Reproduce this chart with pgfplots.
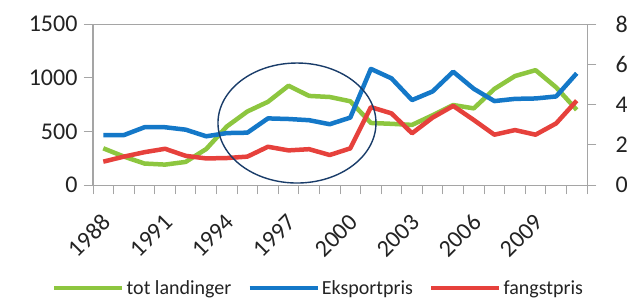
\documentclass[border=0pt]{standalone}
\usepackage{pgfplots}
\usepackage{pgfplotstable}
\pgfplotsset{compat=1.18}
\usepackage{fontspec}
\setmainfont{Carlito}
\definecolor{cgreen}{RGB}{141,198,63}
\definecolor{cblue}{RGB}{20,120,200}
\definecolor{cred}{RGB}{230,65,60}
\definecolor{cnavy}{RGB}{25,60,105}
\definecolor{caxis}{RGB}{165,165,165}
\definecolor{ctext}{RGB}{35,35,35}

\pgfplotstableread{
i year green blue red
0 1988 342 2.48 1.16
1 1989 265 2.48 1.41
2 1990 200 2.87 1.63
3 1991 190 2.87 1.80
4 1992 215 2.75 1.45
5 1993 335 2.42 1.32
6 1994 545 2.58 1.34
7 1995 685 2.60 1.41
8 1996 775 3.31 1.90
9 1997 925 3.28 1.72
10 1998 830 3.22 1.78
11 1999 820 3.02 1.49
12 2000 780 3.35 1.82
13 2001 578 5.77 3.87
14 2002 570 5.30 3.56
15 2003 560 4.22 2.57
16 2004 650 4.65 3.35
17 2005 745 5.63 3.93
18 2006 714 4.78 3.23
19 2007 895 4.17 2.50
20 2008 1015 4.28 2.73
21 2009 1070 4.30 2.50
22 2010 910 4.40 3.06
23 2011 700 5.55 4.19
}\datatab

\pgfplotsset{
  common/.style={
    scale only axis, width=494pt, height=161pt,
    at={(0pt,0pt)}, anchor=south west,
    xmin=-0.5, xmax=23.5,
    /pgf/number format/assume math mode=true,
    /pgf/number format/1000 sep={},
    tick align=outside, major tick length=9pt, minor tick length=9pt,
    tick style={draw=caxis, line width=0.9pt},
    every minor tick/.append style={draw=caxis, line width=0.9pt},
    axis line style={draw=caxis, line width=1pt},
    tick label style={font=\fontsize{24}{26}\selectfont, text=ctext},
    clip=false,
  }
}

\begin{document}
\begin{tikzpicture}
% tick marks only (left y and bottom x)
\begin{axis}[common,
  ymin=0, ymax=1500, ytick={0,750}, xtick={0,12},
  xmajorticks=false, ymajorticks=false,
  xtick pos=bottom, ytick pos=left,
  minor xtick={-0.5,0.5,...,23.5},
  minor ytick={0,500,1000,1500},
]
\end{axis}
% tick marks only (right y)
\begin{axis}[common,
  ymin=0, ymax=8, ytick={1,3}, axis y line*=right, axis x line=none,
  ymajorticks=false,
  minor ytick={0,2,4,6,8},
]
\end{axis}
\begin{axis}[common,
  ymin=0, ymax=1500, ytick={0,500,1000,1500}, ytick pos=left,
  yticklabel style={xshift=-3pt},
  xtick={-0.5,0.5,...,23.5}, xtick pos=bottom,
  xticklabels={,1988,,,1991,,,1994,,,1997,,,2000,,,2003,,,2006,,,2009,,},
  xticklabel style={xshift=-4.5pt, yshift=-22pt, rotate=45, anchor=east},
]
\addplot[cgreen, line width=4.5pt, line join=round] table[x=i, y=green] {\datatab};
\end{axis}
\begin{axis}[common,
  ymin=0, ymax=8, ytick={0,2,4,6,8},
  axis y line*=right, axis x line=none,
  yticklabel style={xshift=16pt},
  legend style={at={(-0.083,-0.64)}, anchor=west, draw=none, fill=none,
    legend columns=3, font=\fontsize{20}{22}\selectfont, text=ctext,
    /tikz/every even column/.append style={column sep=14pt},
    inner sep=0pt, nodes={inner sep=2pt}},
  legend image code/.code={\draw[#1, line width=4.5pt] (0pt,0pt) -- (68pt,0pt);},
]
\addlegendimage{cgreen}
\addlegendentry{tot landinger}
\addplot[cblue, line width=4.5pt, line join=round] table[x=i, y=blue] {\datatab};
\addlegendentry{Eksportpris}
\addplot[cred, line width=4.5pt, line join=round] table[x=i, y=red] {\datatab};
\addlegendentry{fangstpris}
\draw[cnavy, line width=1.4pt] (axis cs:9.41,3.08) ellipse [x radius=79pt, y radius=60pt];
\end{axis}
\pgfresetboundingbox
\path[use as bounding box] (-93pt,-113pt) rectangle (534pt,185pt);
\end{tikzpicture}
\end{document}
